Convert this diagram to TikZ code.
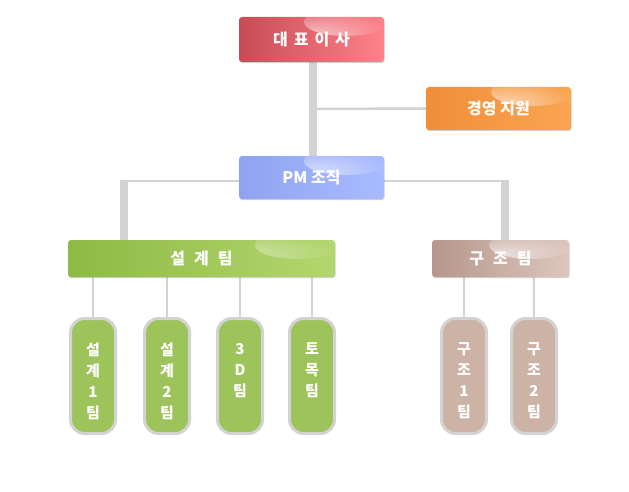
\documentclass[tikz,border=0pt]{standalone}
\usepackage{fontspec}
\setmainfont{Noto Sans CJK KR}
\usetikzlibrary{backgrounds,fadings,shadows}
\definecolor{lg}{HTML}{D3D3D3}
\definecolor{ceoL}{HTML}{C84C57}
\definecolor{ceoR}{HTML}{FF8189}
\definecolor{mgL}{HTML}{F08E3A}
\definecolor{mgR}{HTML}{FAA552}
\definecolor{pmL}{HTML}{8FA3F2}
\definecolor{pmR}{HTML}{A9BBFF}
\definecolor{dsL}{HTML}{8DBA45}
\definecolor{dsR}{HTML}{B4D66E}
\definecolor{stL}{HTML}{B6978B}
\definecolor{stR}{HTML}{DCC6BD}
\definecolor{subG}{HTML}{9DC35B}
\definecolor{subT}{HTML}{CDB2A6}
\tikzfading[name=softglow, inner color=transparent!0, outer color=transparent!100]
\tikzset{
  x=1pt, y=-1pt,
  hdr/.style={rounded corners=3pt, inner sep=0pt, text=white,
    font=\bfseries\fontsize{16}{18}\selectfont,
    drop shadow={shadow xshift=0.6pt, shadow yshift=-1.2pt, opacity=0.35},
    path picture={\fill[white,opacity=0.6,path fading=softglow]
      ([xshift=-38pt,yshift=-5pt]path picture bounding box.north east) ellipse (42pt and 14pt);}},
  subbox/.style={draw=lg, line width=3pt, rounded corners=14pt, inner sep=0pt,
    minimum width=45pt, minimum height=115pt, text=white,
    font=\bfseries\fontsize{15}{21}\selectfont},
  thick line/.style={draw=lg, line width=8pt},
  thin line/.style={draw=lg, line width=2.5pt},
}
\newcommand{\vtext}[1]{\parbox[c][66pt][t]{20pt}{\centering #1}}
\begin{document}
\begin{tikzpicture}
\useasboundingbox (0,0) rectangle (629,492);
% headers
\node[hdr, left color=ceoL, right color=ceoR, minimum width=145pt, minimum height=45pt] (ceo) at (311.5,39.5) {대\hspace{6pt}표\hspace{6pt}이\hspace{6pt}사};
\node[hdr, left color=mgL, right color=mgR, minimum width=145pt, minimum height=43pt] (mg) at (498.5,108.5) {경영 지원};
\node[hdr, left color=pmL, right color=pmR, minimum width=145pt, minimum height=43pt] (pm) at (311.5,177.5) {PM 조직};
\node[hdr, left color=dsL, right color=dsR, minimum width=267pt, minimum height=37pt] (ds) at (201.5,258.5) {설\hspace{9pt}계\hspace{9pt}팀};
\node[hdr, left color=stL, right color=stR, minimum width=137pt, minimum height=37pt] (st) at (500.5,258.5) {구\hspace{9pt}조\hspace{9pt}팀};
% sub boxes
\node[subbox, fill=subG] (d1) at (93,376) {\vtext{설\\계\\1\\팀}};
\node[subbox, fill=subG] (d2) at (167,376) {\vtext{설\\계\\2\\팀}};
\node[subbox, fill=subG] (d3) at (240,376) {\vtext{3\\D\\팀}};
\node[subbox, fill=subG] (d4) at (312,376) {\vtext{토\\목\\팀}};
\node[subbox, fill=subT] (s1) at (464,376) {\vtext{구\\조\\1\\팀}};
\node[subbox, fill=subT] (s2) at (534,376) {\vtext{구\\조\\2\\팀}};
% connectors
\coordinate (jm) at (313,109);
\coordinate (jl) at (124,181);
\coordinate (jr) at (505,181);
\begin{scope}[on background layer]
\fill[white] (0,0) rectangle (629,492);
\draw[thick line] (313,0 |- ceo.south) -- (313,0 |- pm.north);
\draw[thin line] (jm) -- (mg.west);
\draw[thin line] (pm.west |- jl) -- (jl);
\draw[thin line] (pm.east |- jr) -- (jr);
\draw[thick line] ([yshift=1.25pt]jl) -- (jl |- ds.north);
\draw[thick line] ([yshift=1.25pt]jr) -- (jr |- st.north);
\draw[thin line] (d1.north |- ds.south) -- (d1.north);
\draw[thin line] (d2.north |- ds.south) -- (d2.north);
\draw[thin line] (d3.north |- ds.south) -- (d3.north);
\draw[thin line] (d4.north |- ds.south) -- (d4.north);
\draw[thin line] (s1.north |- st.south) -- (s1.north);
\draw[thin line] (s2.north |- st.south) -- (s2.north);
\end{scope}
\end{tikzpicture}
\end{document}
